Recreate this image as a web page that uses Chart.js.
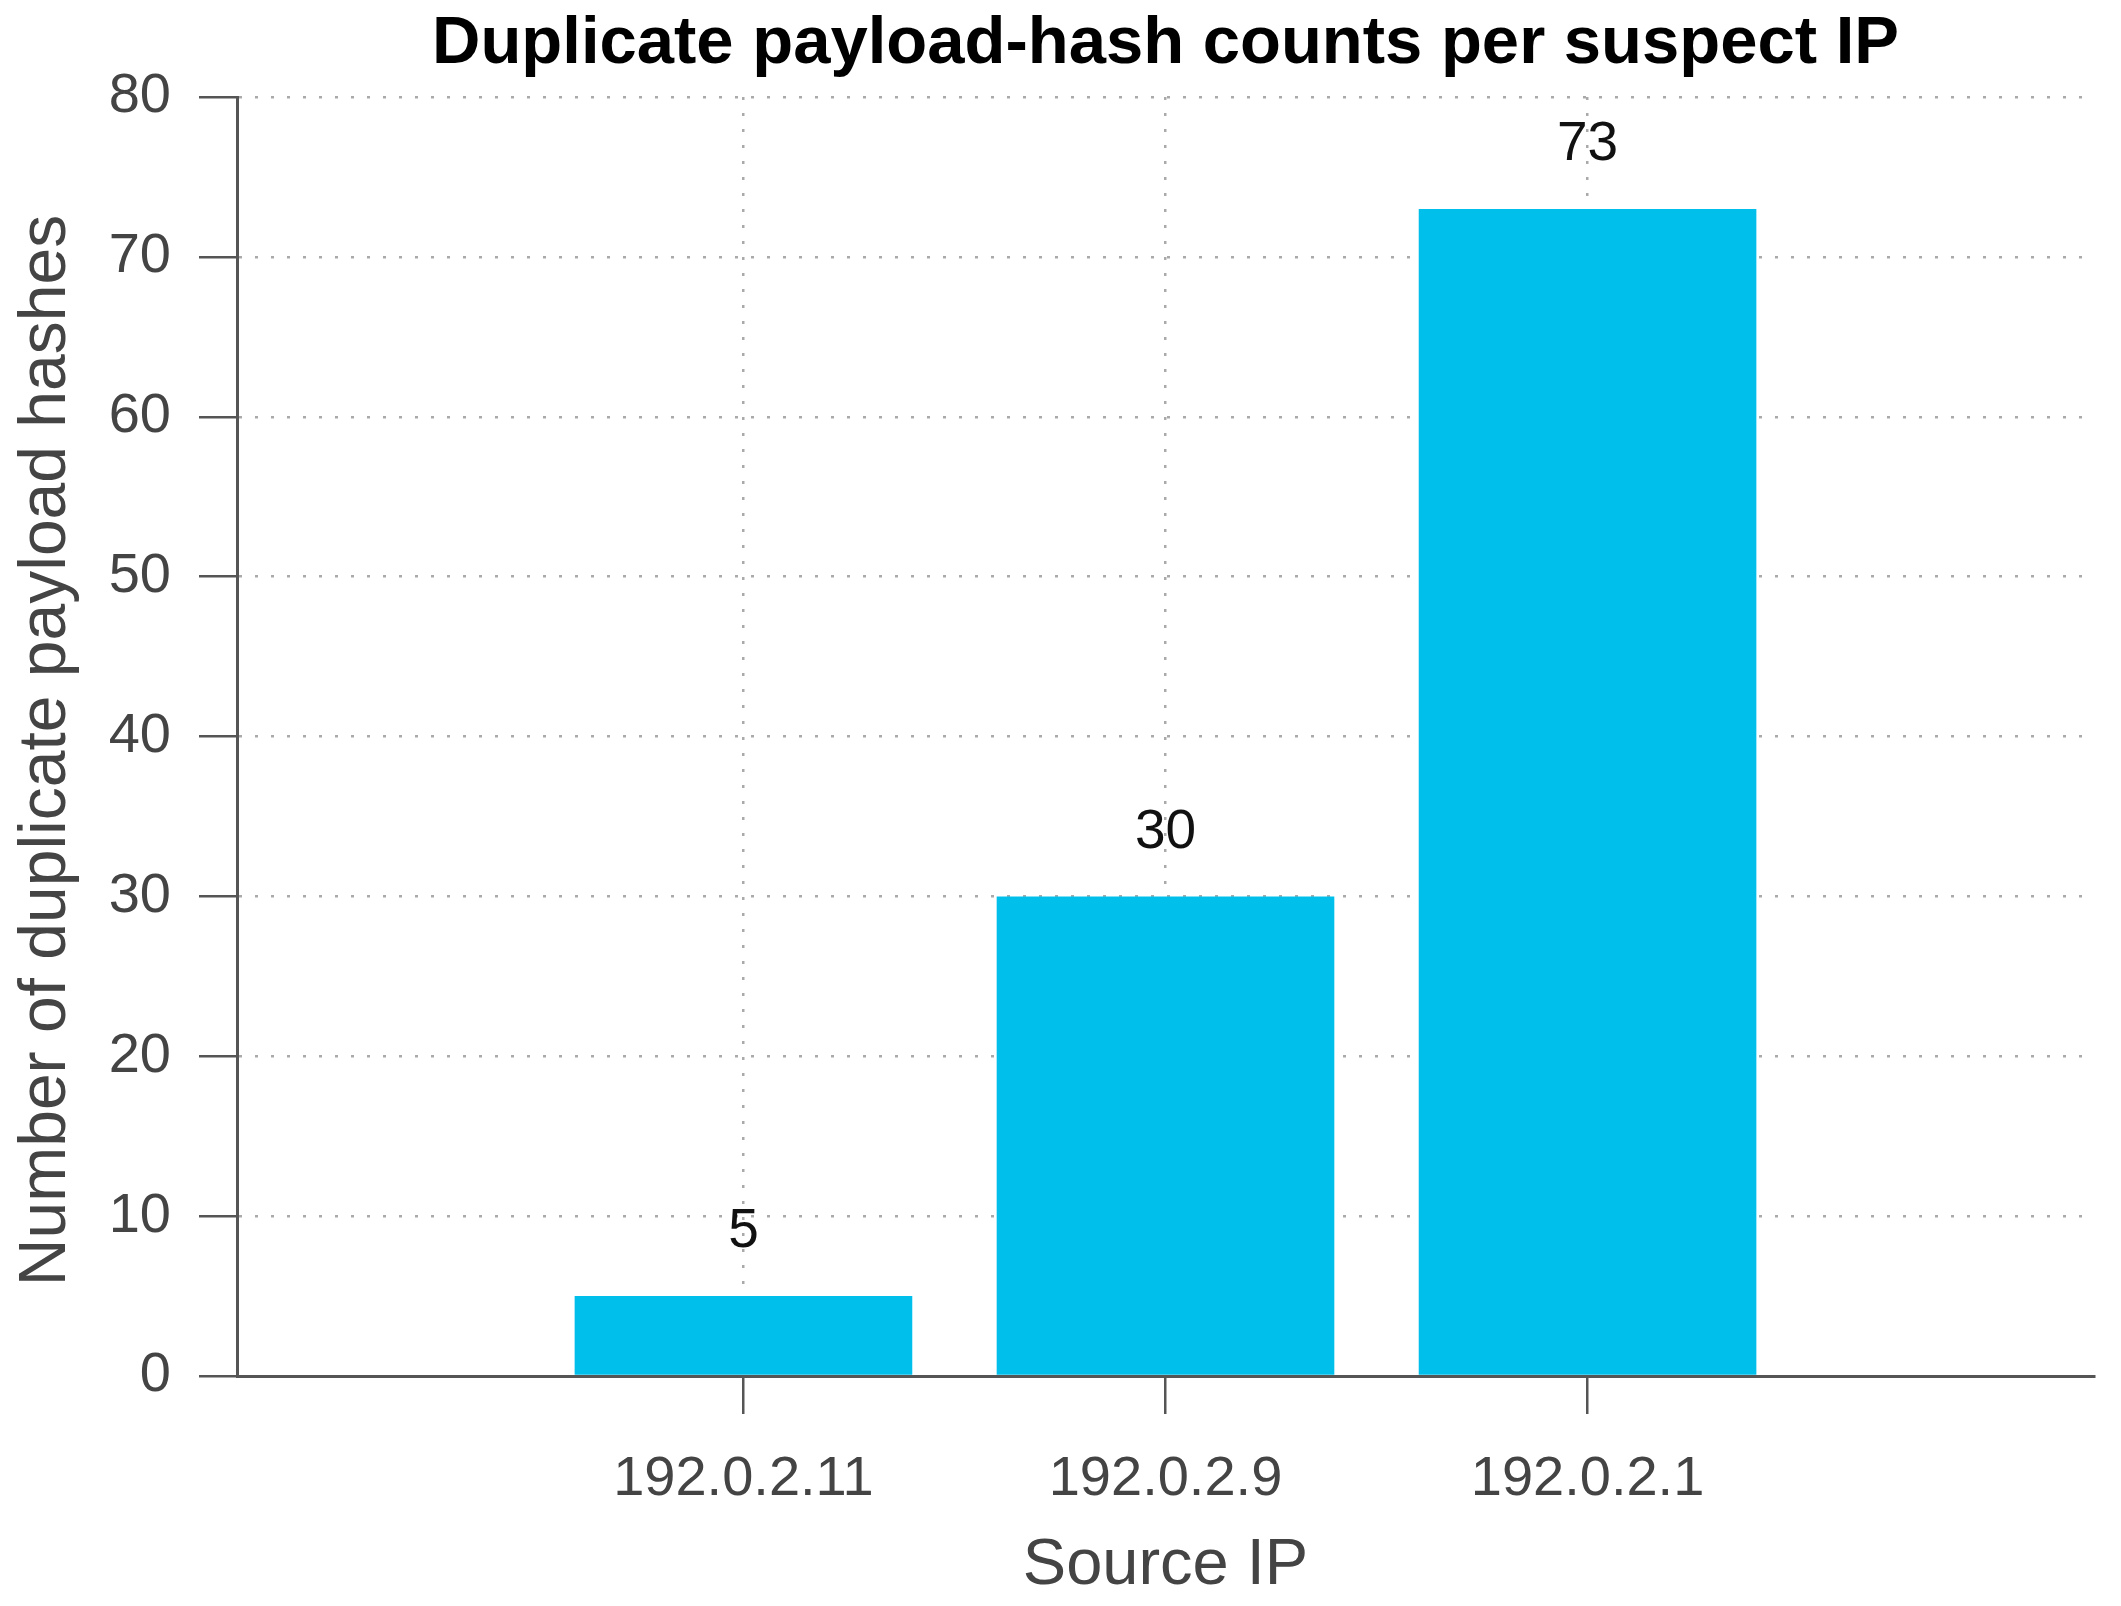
<!DOCTYPE html>
<html>
<head>
<meta charset="utf-8">
<script src="https://cdn.jsdelivr.net/npm/chart.js@4.4.1/dist/chart.umd.min.js"></script>
<style>
  html, body { margin: 0; padding: 0; background: #fff; }
  #wrap { width: 2121px; height: 1606px; }
</style>
</head>
<body>
<div id="wrap"><canvas id="myChart" width="2121" height="1606"></canvas></div>
<script>
// data
const sourceIps = ["192.0.2.11", "192.0.2.9", "192.0.2.1"];
const duplicateCounts = [5, 30, 73];
const yMin = 0;
const yMax = 80;
const yStep = 10;

const chartTitle = "Duplicate payload-hash counts per suspect IP";
const yTitle = "Number of duplicate payload hashes";

const fontFamily = "'Liberation Sans', Arial, sans-serif";
const axisGray = "#555555";
const textGray = "#444444";
const dotGray = "#aaaaaa";

// value labels above bars, plus titles centred on the plot area
const extraText = {
  id: "extraText",
  afterDatasetsDraw(chart) {
    const ctx = chart.ctx;
    const meta = chart.getDatasetMeta(0);
    ctx.save();
    ctx.font = "55px " + fontFamily;
    ctx.fillStyle = "#111111";
    ctx.textAlign = "center";
    ctx.textBaseline = "middle";
    meta.data.forEach((bar, i) => {
      ctx.fillText(String(duplicateCounts[i]), bar.x, bar.y - 64);
    });
    ctx.restore();
  },
  afterDraw(chart) {
    const ctx = chart.ctx;
    const area = chart.chartArea;
    ctx.save();
    ctx.fillStyle = "#000000";
    ctx.font = "bold 67px " + fontFamily;
    ctx.textAlign = "center";
    ctx.textBaseline = "middle";
    ctx.fillText(chartTitle, (area.left + area.right) / 2, 45);

    ctx.fillStyle = textGray;
    ctx.font = "66px " + fontFamily;
    ctx.translate(47, (area.top + area.bottom) / 2 + 14);
    ctx.rotate(-Math.PI / 2);
    ctx.fillText(yTitle, 0, 0);
    ctx.restore();
  },
};

const ctx = document.getElementById("myChart");

new Chart(ctx, {
  type: "bar",
  data: {
    datasets: [
      {
        data: duplicateCounts.map((v, i) => ({ x: i, y: v })),
        backgroundColor: "#00BFEB",
        borderWidth: 0,
        categoryPercentage: 1,
        barPercentage: 0.8,
      },
    ],
  },
  plugins: [extraText],
  options: {
    responsive: false,
    animation: false,
    devicePixelRatio: 1,
    layout: { padding: { left: 0, right: 27, top: 97, bottom: 0 } },
    plugins: {
      legend: { display: false },
      tooltip: { enabled: false },
      title: { display: false },
    },
    scales: {
      x: {
        type: "linear",
        offset: false,
        min: -1.2,
        max: 3.2,
        afterBuildTicks: (axis) => {
          axis.ticks = sourceIps.map((_, i) => ({ value: i }));
        },
        afterFit: (scale) => {
          scale.height = 230;
        },
        ticks: {
          callback: (value) => sourceIps[value],
          color: textGray,
          font: { family: fontFamily, size: 56 },
          padding: 32,
          maxRotation: 0,
          autoSkip: false,
        },
        grid: {
          offset: false,
          color: dotGray,
          lineWidth: 2.5,
          drawTicks: true,
          tickLength: 38,
          tickColor: axisGray,
          tickWidth: 2.5,
          tickBorderDash: [],
        },
        border: { display: true, color: axisGray, width: 3, dash: [3, 13] },
        title: {
          display: true,
          text: "Source IP",
          color: textGray,
          font: { family: fontFamily, size: 65 },
          padding: { top: 0, bottom: 1 },
        },
      },
      y: {
        min: yMin,
        max: yMax,
        afterFit: (scale) => {
          scale.width = 237;
        },
        ticks: {
          stepSize: yStep,
          color: textGray,
          font: { family: fontFamily, size: 56 },
          padding: 28,
        },
        grid: {
          color: dotGray,
          lineWidth: 2.5,
          drawTicks: true,
          tickLength: 38,
          tickColor: axisGray,
          tickWidth: 2.5,
          tickBorderDash: [],
        },
        border: { display: true, color: axisGray, width: 3, dash: [3, 13] },
      },
    },
  },
});
</script>
</body>
</html>
